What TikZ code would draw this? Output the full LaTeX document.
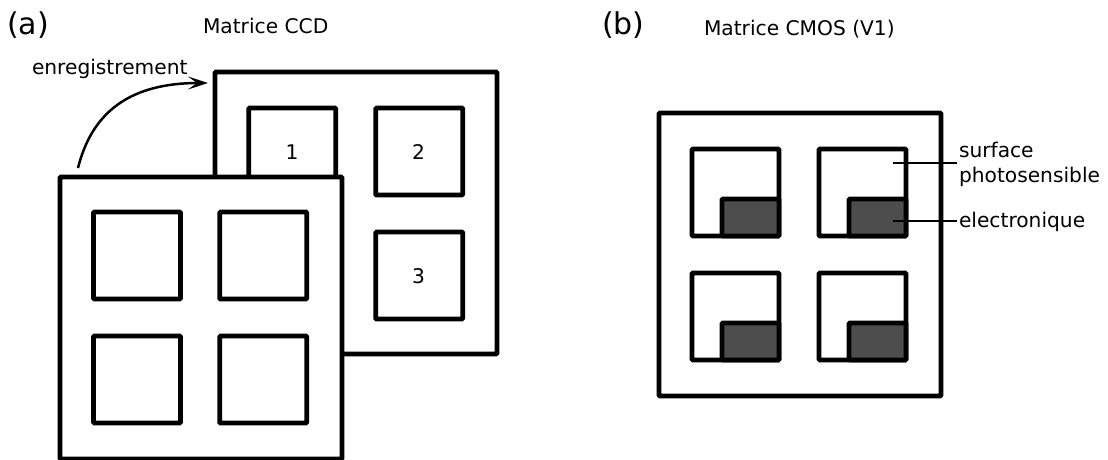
\documentclass[tikz,border=0pt]{standalone}
\usepackage{fontspec}
\setmainfont{DejaVu Sans}
\usetikzlibrary{arrows.meta}
\definecolor{darkgrey}{HTML}{4D4D4D}
\tikzset{
  box/.style={draw=black,line width=4.6pt,rounded corners=0.8pt,fill=white,inner sep=0pt,outer sep=0pt,anchor=north west},
  bigbox/.style={box,minimum width=282pt,minimum height=282pt},
  cell/.style={box,minimum width=87pt,minimum height=87pt},
  elec/.style={box,fill=darkgrey,minimum width=57pt,minimum height=37pt},
  lbl/.style={inner sep=0pt,outer sep=0pt,anchor=base west,font=\fontsize{20.2}{25}\selectfont},
  tag/.style={lbl,font=\fontsize{30}{36}\selectfont},
  leader/.style={draw=black,line width=1.8pt},
  swoop/.style={draw=black,line width=2.5pt,-{Stealth[length=20pt,width=13pt,inset=9pt]}}
}
\begin{document}
\begin{tikzpicture}[x=1pt,y=-1pt]
\useasboundingbox (0,0) rectangle (1108,459);
\clip (0,0) rectangle (1108,459);
% back matrix
\node[bigbox] (back) at (215,72) {};
\node[cell] (b1) at (248.7,108) {};
\node[cell] (b2) at (375.7,108) {};
\node[cell] (b3) at (375.7,232) {};
\node[lbl,anchor=base] (n1) at (292,159) {1};
\node[lbl,anchor=base] (n2) at (418.5,159) {2};
\node[lbl,anchor=base] (n3) at (418.5,283) {3};
% front matrix
\node[bigbox] (front) at (60,177) {};
\node[cell] (f1) at (93.5,212) {};
\node[cell] (f2) at (219.7,212) {};
\node[cell] (f3) at (93.5,336) {};
\node[cell] (f4) at (219.7,336) {};
% CMOS matrix
\node[bigbox,minimum height=283pt] (cmos) at (659,113) {};
\foreach \n/\x/\y in {a/692/149,b/819/149,c/692/273,d/819/273}{
  \node[cell] (c\n) at (\x,\y) {};
  \node[elec] (e\n) at ({\x+30},{\y+50}) {};
}
% labels
\node[tag] (ta) at (7,34) {(a)};
\node[tag] (tb) at (602,34) {(b)};
\node[lbl] (tccd) at (203,33) {Matrice CCD};
\node[lbl] (tcmos) at (704,35) {Matrice CMOS (V1)};
\node[lbl] (tenr) at (32,74) {enregistrement};
\node[lbl] (tsurf) at (959,157) {surface};
\node[lbl] (tphoto) at (959,182) {photosensible};
\node[lbl] (telec) at (959,227) {electronique};
% connectors
\coordinate (s0) at (78,168);
\coordinate (s1) at (208,83);
\draw[swoop] (s0) .. controls (92,112) and (130,83) .. (s1);
\coordinate (l1) at (893,163);
\coordinate (l1e) at (957,163);
\coordinate (l2) at (893,221);
\coordinate (l2e) at (957,221);
\draw[leader] (l1) -- (l1e);
\draw[leader] (l2) -- (l2e);
\end{tikzpicture}
\end{document}
